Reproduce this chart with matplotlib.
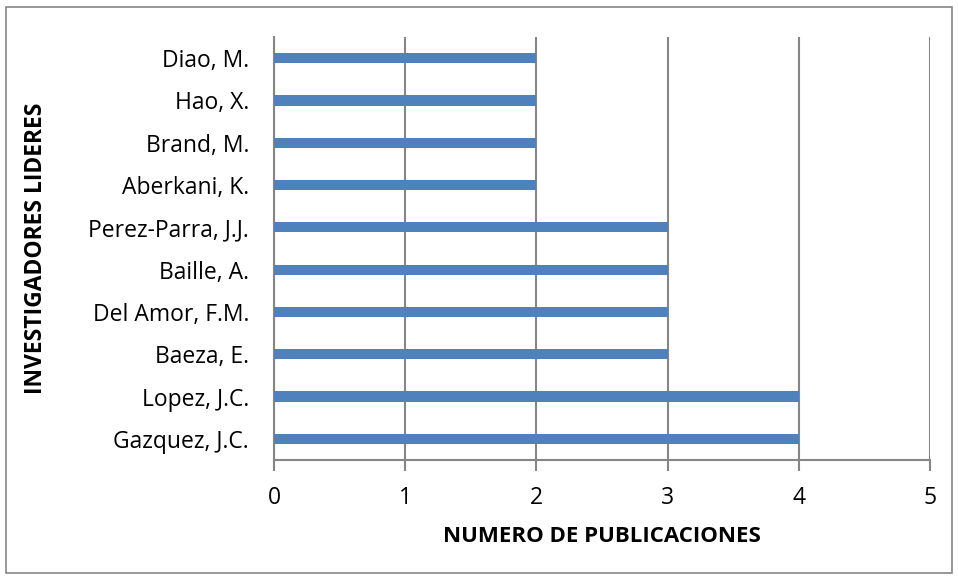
import matplotlib
matplotlib.use("Agg")
import matplotlib.pyplot as plt
from matplotlib.patches import Rectangle

categories = ["Gazquez, J.C.", "Lopez, J.C.", "Baeza, E.", "Del Amor, F.M.", "Baille, A.",
              "Perez-Parra, J.J.", "Aberkani, K.", "Brand, M.", "Hao, X.", "Diao, M."]
values = [4, 4, 3, 3, 3, 3, 2, 2, 2, 2]
xticks = [0, 1, 2, 3, 4, 5]

plt.rcParams['font.family'] = ['Open Sans', 'DejaVu Sans']

fig = plt.figure(figsize=(9.58, 5.80), dpi=100)
ax = fig.add_axes([274/958, 1-460/580, (930-274)/958, (460-37)/580])

grid_c = "#868686"
fs = 16.5
ax.barh(range(len(categories)), values, height=0.24, color="#4F81BD", zorder=3)
ax.set_ylim(-0.5, len(categories) - 0.5)
ax.set_xlim(0, 5)
ax.set_xticks(xticks)
ax.set_xticklabels([str(t) for t in xticks], fontsize=fs)
ax.set_yticks(range(len(categories)))
ax.set_yticklabels(categories, fontsize=fs)
ax.xaxis.grid(True, color=grid_c, linewidth=1.5, zorder=0)
ax.set_axisbelow(True)
for s in ["top", "right"]:
    ax.spines[s].set_visible(False)
for s in ["left", "bottom"]:
    ax.spines[s].set_color(grid_c)
    ax.spines[s].set_linewidth(1.5)
ax.tick_params(axis="x", length=8, width=1.5, color=grid_c, pad=11)
ax.tick_params(axis="y", length=0, pad=18)

ax.set_xlabel("NUMERO DE PUBLICACIONES", fontsize=16, fontweight="bold")
ax.xaxis.set_label_coords(0.5, -(536-460)/423, transform=ax.transAxes)
ax.xaxis.label.set_va("center")
ax.set_ylabel("INVESTIGADORES LIDERES", fontsize=16.5, fontweight="bold")
ax.yaxis.set_label_coords(-(274-36)/656, 0.5)
ax.yaxis.label.set_va("center")

fig.patches.append(Rectangle((6/958, 1-573/580), 946/958, 566/580, transform=fig.transFigure,
                             fill=False, edgecolor=grid_c, linewidth=1.2))

fig.savefig("out.png", dpi=100)
